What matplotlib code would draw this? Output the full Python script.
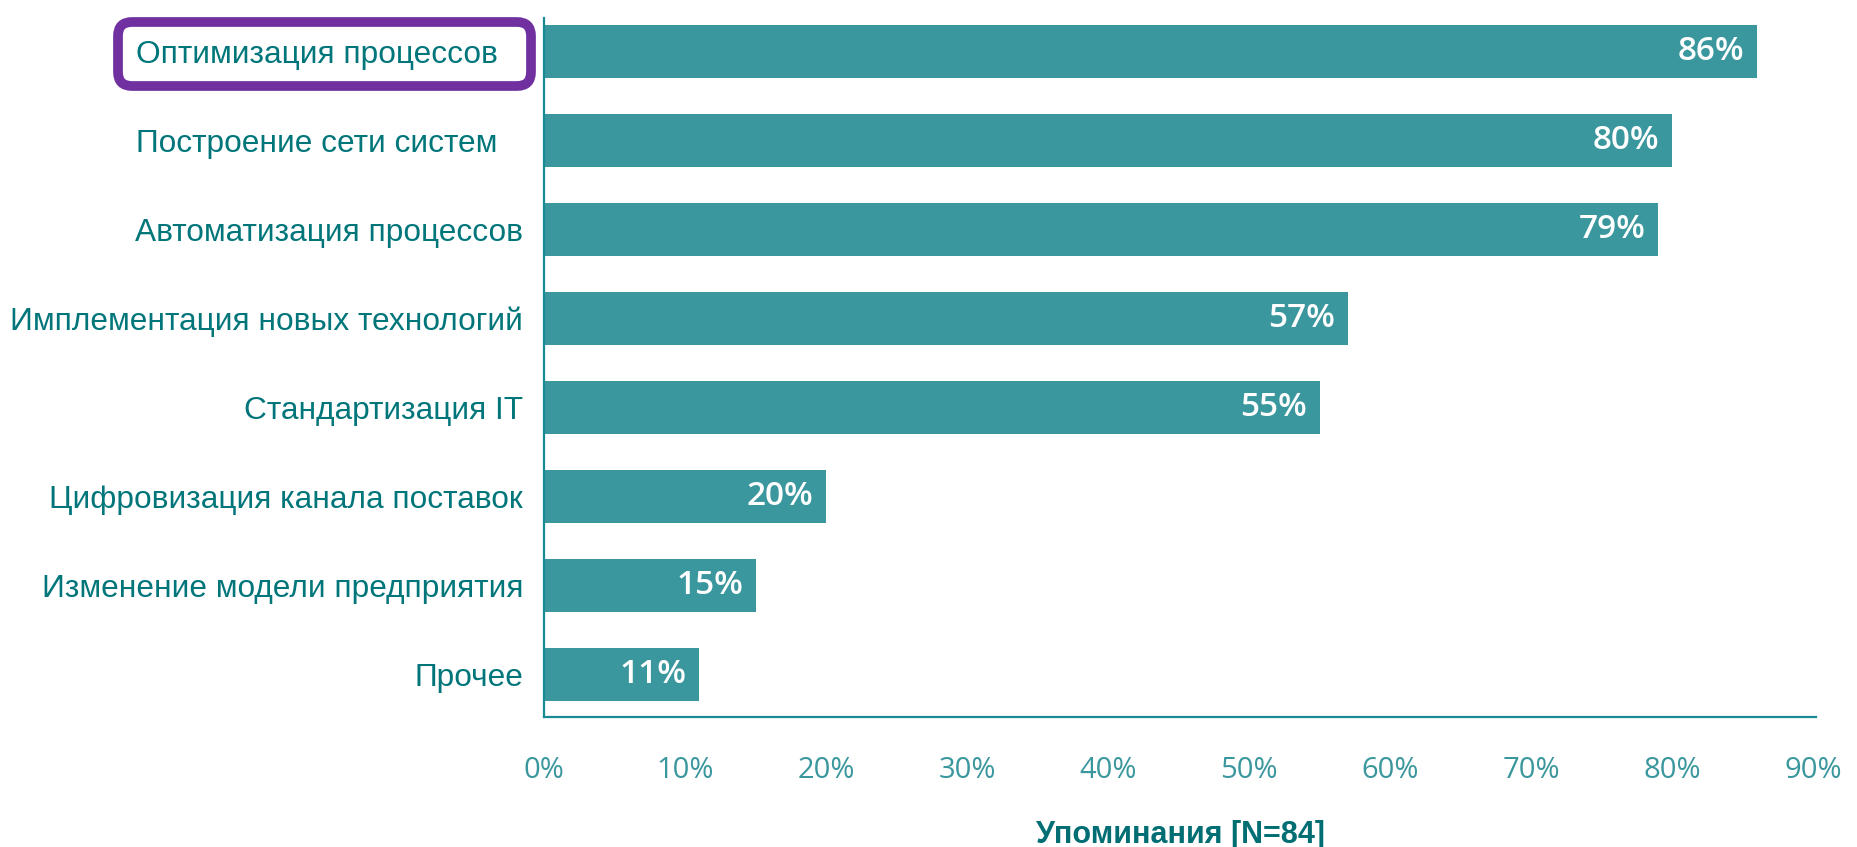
import matplotlib.pyplot as plt
import matplotlib.transforms as mtransforms
from matplotlib.patches import FancyBboxPatch

# data
categories = ["Оптимизация процессов", "Построение сети систем", "Автоматизация процессов",
              "Имплементация новых технологий", "Стандартизация IT", "Цифровизация канала поставок",
              "Изменение модели предприятия", "Прочее"]
values = [86, 80, 79, 57, 55, 20, 15, 11]
x_ticks = [0, 10, 20, 30, 40, 50, 60, 70, 80, 90]
x_label = "Упоминания [N=84]"

bar_color = "#3a979e"
text_color = "#00767a"
tick_color = "#3a979d"
spine_color = "#178a94"
box_color = "#7030a0"

fig = plt.figure(figsize=(18.58, 8.47), dpi=100)
ax = fig.add_axes([0.2928, 0.1535, 0.9774 - 0.2928, 0.9787 - 0.1535])

y_pos = list(range(len(categories)))
ax.barh(y_pos, values, height=0.59, color=bar_color)
ax.set_ylim(7.48, -0.374)
ax.set_xlim(0, 90.2)

# value labels inside the bars
for yy, vv in zip(y_pos, values):
    ax.annotate("{}%".format(vv), xy=(vv, yy), xytext=(-9, 0), textcoords="offset points",
                ha="right", va="center", color="white", fontsize=24,
                family="Open Sans", fontweight="semibold")

# category labels (first two left-aligned with the third one)
trans = mtransforms.blended_transform_factory(fig.transFigure, ax.transData)
for ii, cat in enumerate(categories):
    if ii < 2:
        ax.text(136 / 1858, ii, cat, transform=trans, ha="left", va="center_baseline",
                fontsize=22.8, family="Liberation Sans", color=text_color)
    else:
        ax.text(523 / 1858, ii, cat, transform=trans, ha="right", va="center_baseline",
                fontsize=22.8, family="Liberation Sans", color=text_color)
ax.set_yticks([])

ax.set_xticks(x_ticks)
ax.set_xticklabels(["{}%".format(t) for t in x_ticks], fontsize=21, family="Open Sans",
                   color=tick_color)
ax.tick_params(axis="x", length=0, pad=28)
ax.set_xlabel(x_label, fontsize=22, fontweight="bold", color="#006e73",
              family="Liberation Sans", labelpad=25)

for side in ["top", "right"]:
    ax.spines[side].set_visible(False)
for side in ["left", "bottom"]:
    ax.spines[side].set_color(spine_color)
    ax.spines[side].set_linewidth(1.6)

# highlight box around the first label
box = FancyBboxPatch((1.18, (847 - 86) / 100), 4.13, 0.64,
                     boxstyle="round,pad=0,rounding_size=0.14",
                     transform=fig.dpi_scale_trans, fill=False,
                     edgecolor=box_color, linewidth=7)
fig.add_artist(box)

fig.savefig("out.png", dpi=100, facecolor="white")
